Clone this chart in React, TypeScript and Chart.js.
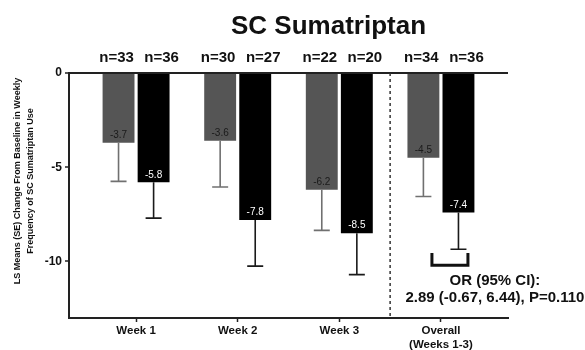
import { useEffect, useRef } from 'react';
import { Chart, registerables } from 'chart.js';

Chart.register(...registerables);

const FONT = '"Liberation Sans", Arial, Helvetica, sans-serif';

// Categories along the x axis
const CATEGORY_LABELS: (string | string[])[] = ['Week 1', 'Week 2', 'Week 3', ['Overall', '(Weeks 1-3)']];

// Grey series
const PLACEBO_MEANS = [-3.7, -3.6, -6.2, -4.5];
const PLACEBO_SE = [2.05, 2.45, 2.15, 2.05];
const PLACEBO_N = [33, 30, 22, 34];

// Black series
const TREATMENT_MEANS = [-5.8, -7.8, -8.5, -7.4];
const TREATMENT_SE = [1.9, 2.45, 2.2, 1.95];
const TREATMENT_N = [36, 27, 20, 36];

const Y_TICKS = [0, -5, -10];
const TITLE = 'SC Sumatriptan';
const Y_TITLE = ['LS Means (SE) Change From Baseline in Weekly', 'Frequency of SC Sumatriptan Use'];
const OR_TEXT = ['OR (95% CI):', '2.89 (-0.67, 6.44), P=0.110'];

const annotations = {
  id: 'annotations',
  afterDatasetsDraw(chart: any) {
    const { ctx, chartArea, scales } = chart;
    const x = scales.x;
    const y = scales.y;
    const series = [
      { means: PLACEBO_MEANS, se: PLACEBO_SE, n: PLACEBO_N, whisker: '#707070', text: '#1a1a1a', nShift: -2 },
      { means: TREATMENT_MEANS, se: TREATMENT_SE, n: TREATMENT_N, whisker: '#1a1a1a', text: '#ffffff', nShift: 8 },
    ];

    ctx.save();

    // dashed separator between the weekly groups and the overall group
    const sepX = (x.getPixelForValue(2) + x.getPixelForValue(3)) / 2;
    ctx.strokeStyle = '#333';
    ctx.lineWidth = 1.5;
    ctx.setLineDash([3, 3]);
    ctx.beginPath();
    ctx.moveTo(sepX, chartArea.top);
    ctx.lineTo(sepX, chartArea.bottom);
    ctx.stroke();
    ctx.setLineDash([]);

    series.forEach((s, di) => {
      const meta = chart.getDatasetMeta(di);
      meta.data.forEach((bar: any, i: number) => {
        const bx = bar.x;
        const yEnd = y.getPixelForValue(s.means[i]);
        const yErr = y.getPixelForValue(s.means[i] - s.se[i]);

        // one-sided error bar with cap
        ctx.strokeStyle = s.whisker;
        ctx.lineWidth = 1.6;
        ctx.beginPath();
        ctx.moveTo(bx, yEnd);
        ctx.lineTo(bx, yErr);
        ctx.moveTo(bx - 8, yErr);
        ctx.lineTo(bx + 8, yErr);
        ctx.stroke();

        // value inside the bar end
        ctx.fillStyle = s.text;
        ctx.font = `10px ${FONT}`;
        ctx.textAlign = 'center';
        ctx.textBaseline = 'middle';
        ctx.fillText(s.means[i].toFixed(1), bx, yEnd - 7.5);

        // sample size above the plot
        ctx.fillStyle = '#111';
        ctx.font = `bold 15px ${FONT}`;
        ctx.textBaseline = 'alphabetic';
        ctx.fillText(`n=${s.n[i]}`, bx + s.nShift, chartArea.top - 11);
      });
    });

    // bracket and odds ratio for the overall group
    const cx = x.getPixelForValue(3);
    const bTop = y.getPixelForValue(-9.55);
    const bBottom = y.getPixelForValue(-10.2);
    ctx.strokeStyle = '#111';
    ctx.lineWidth = 3;
    ctx.beginPath();
    ctx.moveTo(cx - 9, bTop);
    ctx.lineTo(cx - 9, bBottom);
    ctx.lineTo(cx + 27, bBottom);
    ctx.lineTo(cx + 27, bTop);
    ctx.stroke();

    ctx.fillStyle = '#111';
    ctx.font = `bold 15px ${FONT}`;
    ctx.textAlign = 'center';
    ctx.textBaseline = 'alphabetic';
    ctx.fillText(OR_TEXT[0], cx + 54, bBottom + 20);
    ctx.fillText(OR_TEXT[1], cx + 54, bBottom + 37);

    // chart title
    const midX = (chartArea.left + chartArea.right) / 2;
    ctx.font = `bold 26px ${FONT}`;
    ctx.fillText(TITLE, midX + 40, chartArea.top - 39.5);

    // y axis title, two rotated lines
    const midY = (chartArea.top + chartArea.bottom) / 2 - 14.5;
    ctx.font = `bold 9px ${FONT}`;
    ctx.textBaseline = 'middle';
    Y_TITLE.forEach((line, i) => {
      ctx.save();
      ctx.translate(18 + i * 13, midY);
      ctx.rotate(-Math.PI / 2);
      ctx.fillText(line, 0, 0);
      ctx.restore();
    });

    ctx.restore();
  },
};

export default function App() {
  const canvasRef = useRef<HTMLCanvasElement | null>(null);

  useEffect(() => {
    const canvas = canvasRef.current;
    if (!canvas) return;
    Chart.defaults.font.family = FONT;

    const chart = new Chart(canvas, {
      type: 'bar',
      data: {
        datasets: [
          {
            label: 'Placebo',
            data: PLACEBO_MEANS.map((v, i) => ({ x: i, y: v })),
            backgroundColor: '#555555',
            borderWidth: 0,
          },
          {
            label: 'Treatment',
            data: TREATMENT_MEANS.map((v, i) => ({ x: i, y: v })),
            backgroundColor: '#000000',
            borderWidth: 0,
          },
        ],
      },
      options: {
        animation: false,
        responsive: false,
        maintainAspectRatio: false,
        events: [],
        layout: { padding: { top: 73, right: 77, left: 0, bottom: 0 } },
        datasets: {
          bar: { categoryPercentage: 0.69, barPercentage: 0.91 },
        },
        plugins: {
          legend: { display: false },
          tooltip: { enabled: false },
          title: { display: false },
        },
        scales: {
          x: {
            type: 'linear',
            min: -0.66,
            max: 3.66,
            offset: false,
            afterFit: (s: any) => {
              s.height = 32;
            },
            afterBuildTicks: (s: any) => {
              s.ticks = CATEGORY_LABELS.map((_, i) => ({ value: i }));
            },
            ticks: {
              callback: (v: any) => CATEGORY_LABELS[v as number],
              font: { family: FONT, size: 11.5, weight: 'bold' },
              color: '#111',
              padding: 2,
              maxRotation: 0,
              autoSkip: false,
            },
            grid: {
              drawOnChartArea: false,
              offset: false,
              tickLength: 4,
              tickColor: '#222',
              tickWidth: 1.5,
            },
            border: { color: '#222', width: 2 },
          },
          y: {
            type: 'linear',
            min: -13,
            max: 0,
            afterFit: (s: any) => {
              s.width = 69;
            },
            afterBuildTicks: (s: any) => {
              s.ticks = Y_TICKS.map((v) => ({ value: v }));
            },
            ticks: {
              font: { family: FONT, size: 12, weight: 'bold' },
              color: '#111',
              padding: 3,
            },
            grid: {
              color: (c: any) => (c.tick && c.tick.value === 0 ? '#222' : 'rgba(0,0,0,0)'),
              lineWidth: 2,
              tickColor: '#222',
              tickLength: 4,
              tickWidth: 1.5,
            },
            border: { color: '#222', width: 2 },
          },
        },
      },
      plugins: [annotations],
    } as any);

    return () => chart.destroy();
  }, []);

  return (
    <div style={{ position: 'fixed', left: 0, top: 0, width: 585, height: 350, background: '#fff' }}>
      <canvas ref={canvasRef} width={585} height={350} style={{ display: 'block' }} />
    </div>
  );
}
